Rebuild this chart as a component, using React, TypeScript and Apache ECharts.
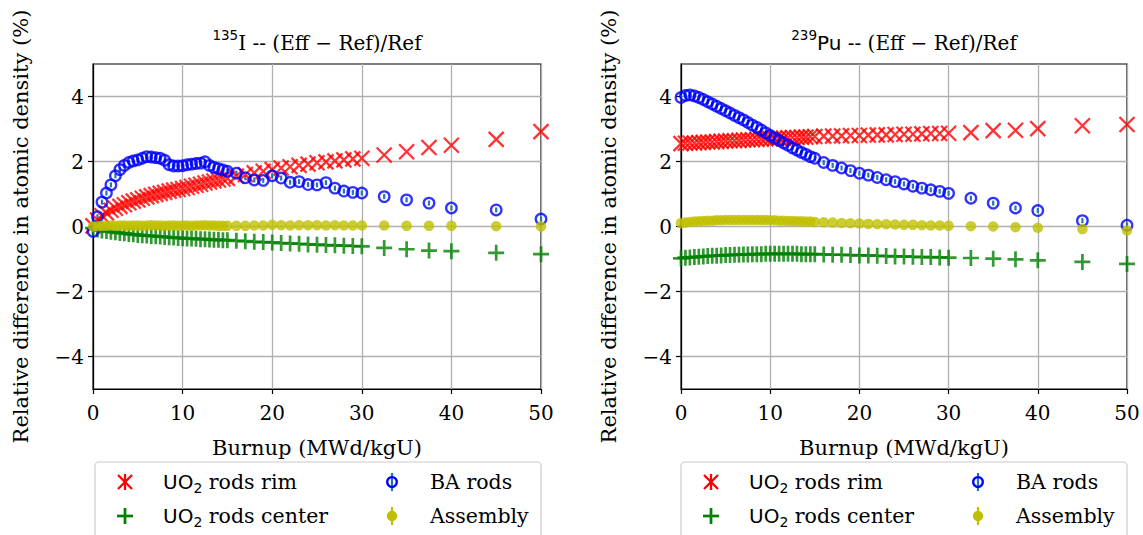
import React, { useEffect, useRef } from "react";
import * as echarts from "echarts";

const burnup = [
  0, 0.5, 1, 1.5, 2, 2.5, 3, 3.5, 4, 4.5, 5, 5.5, 6, 6.5, 7, 7.5, 8, 8.5, 9, 9.5, 10,
  10.5, 11, 11.5, 12, 12.5, 13, 13.5, 14, 14.5, 15,
  16, 17, 18, 19, 20, 21, 22, 23, 24, 25, 26, 27, 28, 29, 30,
  32.5, 35, 37.5, 40, 45, 50,
];

// 135I panel
const rimI = [
  0.02, 0.2, 0.33, 0.42, 0.5, 0.56, 0.62, 0.67, 0.73, 0.78, 0.82, 0.87, 0.91, 0.95, 0.99, 1.02, 1.05, 1.09, 1.12, 1.14, 1.17,
  1.2, 1.24, 1.27, 1.3, 1.34, 1.37, 1.4, 1.43, 1.46, 1.48,
  1.55, 1.6, 1.65, 1.7, 1.75, 1.8, 1.84, 1.88, 1.92, 1.96, 1.99, 2.02, 2.05, 2.08, 2.1,
  2.2, 2.3, 2.43, 2.5, 2.68, 2.92,
];
const centerI = [
  -0.05, -0.09, -0.12, -0.14, -0.16, -0.18, -0.2, -0.21, -0.23, -0.24, -0.26, -0.27, -0.28, -0.29, -0.3, -0.31, -0.32, -0.33, -0.34, -0.35, -0.36,
  -0.37, -0.37, -0.38, -0.39, -0.39, -0.4, -0.41, -0.41, -0.42, -0.42,
  -0.44, -0.45, -0.47, -0.48, -0.49, -0.51, -0.52, -0.53, -0.55, -0.56, -0.57, -0.58, -0.59, -0.6, -0.61,
  -0.66, -0.7, -0.74, -0.76, -0.81, -0.85,
];
const baI = [
  -0.15, 0.3, 0.75, 1.03, 1.28, 1.56, 1.75, 1.88, 1.97, 2.02, 2.05, 2.1, 2.15, 2.14, 2.12, 2.1, 2.04, 1.9, 1.86, 1.86, 1.87,
  1.9, 1.92, 1.94, 1.95, 1.99, 1.88, 1.82, 1.78, 1.74, 1.7,
  1.64, 1.5, 1.43, 1.42, 1.56, 1.49, 1.36, 1.38, 1.29, 1.28, 1.35, 1.18, 1.09, 1.05, 1.03,
  0.92, 0.82, 0.72, 0.57, 0.51, 0.23,
];
const asmI = [
  0.0, 0.01, 0.02, 0.02, 0.03, 0.02, 0.03, 0.03, 0.02, 0.03, 0.03, 0.02, 0.03, 0.04, 0.03, 0.03, 0.02, 0.03, 0.03, 0.02, 0.03,
  0.03, 0.02, 0.03, 0.03, 0.04, 0.03, 0.03, 0.02, 0.02, 0.02,
  0.02, 0.02, 0.03, 0.03, 0.05, 0.04, 0.03, 0.04, 0.04, 0.04, 0.03, 0.04, 0.03, 0.03, 0.03,
  0.03, 0.02, 0.02, 0.02, 0.01, 0.0,
];

// 239Pu panel
const rimPu = [
  2.55, 2.56, 2.57, 2.57, 2.58, 2.59, 2.6, 2.6, 2.61, 2.62, 2.63, 2.64, 2.64, 2.65, 2.66, 2.67, 2.67, 2.68, 2.69, 2.7, 2.7,
  2.71, 2.72, 2.72, 2.73, 2.74, 2.74, 2.75, 2.75, 2.76, 2.77,
  2.78, 2.78, 2.79, 2.8, 2.8, 2.81, 2.82, 2.82, 2.83, 2.84, 2.84, 2.85, 2.86, 2.86, 2.87,
  2.89, 2.95, 2.96, 3.01, 3.1, 3.14,
];
const centerPu = [
  -0.98, -0.96, -0.95, -0.94, -0.93, -0.92, -0.91, -0.9, -0.9, -0.89, -0.88, -0.88, -0.87, -0.87, -0.86, -0.86, -0.85, -0.85, -0.85, -0.84, -0.84,
  -0.84, -0.84, -0.84, -0.84, -0.84, -0.84, -0.85, -0.85, -0.85, -0.85,
  -0.86, -0.87, -0.87, -0.88, -0.89, -0.89, -0.9, -0.91, -0.92, -0.92, -0.93, -0.94, -0.94, -0.95, -0.96,
  -0.97, -0.99, -1.01, -1.04, -1.09, -1.15,
];
const baPu = [
  3.97, 4.03, 4.05, 4.02, 3.97, 3.91, 3.84, 3.77, 3.7, 3.63, 3.56, 3.49, 3.42, 3.35, 3.28, 3.2, 3.12, 3.05, 2.97, 2.88, 2.8,
  2.72, 2.65, 2.57, 2.5, 2.42, 2.35, 2.28, 2.22, 2.15, 2.1,
  1.97, 1.88, 1.8, 1.72, 1.64, 1.58, 1.51, 1.44, 1.38, 1.31, 1.24, 1.18, 1.13, 1.08, 1.02,
  0.87, 0.72, 0.57, 0.49, 0.18, 0.04,
];
const asmPu = [
  0.1, 0.12, 0.14, 0.15, 0.16, 0.17, 0.18, 0.18, 0.19, 0.19, 0.2, 0.2, 0.2, 0.2, 0.2, 0.2, 0.2, 0.2, 0.2, 0.2, 0.19,
  0.19, 0.18, 0.18, 0.17, 0.17, 0.16, 0.16, 0.15, 0.15, 0.14,
  0.13, 0.12, 0.11, 0.1, 0.09, 0.08, 0.07, 0.07, 0.06, 0.05, 0.05, 0.04, 0.03, 0.03, 0.02,
  0.01, 0.0, -0.02, -0.04, -0.08, -0.12,
];

const xTicks = { min: 0, max: 50, interval: 10 };
const yTicks = [-4, -2, 0, 2, 4];
const yRange = { min: -5, max: 5 };

const SERIF = "DejaVu Serif";
const SANS = "DejaVu Sans";
const RED = "#ff0000";
const GREEN = "#008000";
const BLUE = "#0000ff";
const OLIVE = "#bfbf00";
const ERRBLUE = "#1f77b4";

const grids = [
  { left: 93, top: 64, width: 448, height: 325 },
  { left: 681, top: 64, width: 446, height: 325 },
];

const pair = (ys: number[]) => burnup.map((b, i) => [b, ys[i]]);

const fmtNum = (v: number) => (v < 0 ? "\u2212" + Math.abs(v) : String(v));

function makeSeries(gi: number, rim: number[], center: number[], ba: number[], asm: number[]) {
  return [
    {
      type: "scatter",
      name: "UO2 rods rim",
      xAxisIndex: gi,
      yAxisIndex: gi,
      data: pair(rim),
      symbol: "path://M0,0L10,10M10,0L0,10",
      symbolSize: 15,
      itemStyle: { color: "rgba(0,0,0,0)", borderColor: RED, borderWidth: 2.3 },
    },
    {
      type: "scatter",
      name: "UO2 rods center",
      xAxisIndex: gi,
      yAxisIndex: gi,
      data: pair(center),
      symbol: "path://M5,0L5,10M0,5L10,5",
      symbolSize: 16,
      itemStyle: { color: "rgba(0,0,0,0)", borderColor: GREEN, borderWidth: 2.7 },
    },
    {
      type: "custom",
      name: "BA err",
      xAxisIndex: gi,
      yAxisIndex: gi,
      data: pair(ba),
      encode: { x: 0, y: 1 },
      renderItem: (_p: any, api: any) => {
        const c = api.coord([api.value(0), api.value(1)]);
        return {
          type: "line",
          shape: { x1: c[0], y1: c[1] - 2.5, x2: c[0], y2: c[1] + 2.5 },
          style: { stroke: ERRBLUE, lineWidth: 2.2 },
        };
      },
    },
    {
      type: "scatter",
      name: "BA rods",
      xAxisIndex: gi,
      yAxisIndex: gi,
      data: pair(ba),
      symbol: "circle",
      symbolSize: 10.5,
      itemStyle: { color: "rgba(0,0,0,0)", borderColor: BLUE, borderWidth: 2.3 },
    },
    {
      type: "scatter",
      name: "Assembly",
      xAxisIndex: gi,
      yAxisIndex: gi,
      data: pair(asm),
      symbol: "circle",
      symbolSize: 10.5,
      itemStyle: { color: OLIVE },
    },
  ];
}

function legendGraphics(L: number, R: number) {
  const items: any[] = [];
  items.push({
    type: "rect",
    shape: { x: L, y: 462, width: R - L, height: 90, r: 4 },
    style: { fill: "#ffffff", stroke: "#cccccc", lineWidth: 1.2 },
    z: 10,
  });
  const m1 = L + 30;
  const t1 = L + 68;
  const m2 = L + 297;
  const t2 = L + 335;
  const r1 = 482;
  const r2 = 516;
  const ln = (x1: number, y1: number, x2: number, y2: number, stroke: string, w: number) => ({
    type: "line",
    shape: { x1, y1, x2, y2 },
    style: { stroke, lineWidth: w },
    z: 11,
  });
  items.push(ln(m1, r1 - 8, m1, r1 + 8, RED, 2.3));
  items.push(ln(m1 - 7, r1 - 7, m1 + 7, r1 + 7, RED, 2.3));
  items.push(ln(m1 + 7, r1 - 7, m1 - 7, r1 + 7, RED, 2.3));
  items.push(ln(m1, r2 - 8, m1, r2 + 8, GREEN, 2.7));
  items.push(ln(m1 - 8, r2, m1 + 8, r2, GREEN, 2.7));
  items.push(ln(m2, r1 - 9, m2, r1 + 9, ERRBLUE, 2.2));
  items.push({
    type: "circle",
    shape: { cx: m2, cy: r1, r: 4.8 },
    style: { fill: "none", stroke: BLUE, lineWidth: 2.3 },
    z: 12,
  });
  items.push(ln(m2, r2 - 9, m2, r2 + 9, OLIVE, 2.2));
  items.push({
    type: "circle",
    shape: { cx: m2, cy: r2, r: 5.2 },
    style: { fill: OLIVE },
    z: 12,
  });
  const rich = {
    s: { fontFamily: SANS, fontSize: 20, lineHeight: 26, verticalAlign: "middle", fill: "#000" },
    sub: { fontFamily: SANS, fontSize: 14, lineHeight: 13, verticalAlign: "bottom", fill: "#000" },
    r: { fontFamily: SERIF, fontSize: 20.5, lineHeight: 26, verticalAlign: "middle", fill: "#000" },
  };
  const txt = (x: number, y: number, text: string) => ({
    type: "text",
    x,
    y,
    z: 12,
    style: { text, rich, fontFamily: SERIF, fontSize: 20.5, align: "left", verticalAlign: "middle" },
  });
  items.push(txt(t1, r1, "{s|UO}{sub|2}{r| rods rim}"));
  items.push(txt(t1, r2, "{s|UO}{sub|2}{r| rods center}"));
  items.push(txt(t2, r1, "{r|BA rods}"));
  items.push(txt(t2, r2, "{r|Assembly}"));
  return items;
}

function titleGraphic(cx: number, sup: string, head: string, headFont: string) {
  return {
    type: "text",
    x: cx,
    y: 40,
    style: {
      text: `{sup|${sup}}{h|${head}}{m| -- (Eff \u2212 Ref)/Ref}`,
      fontFamily: SERIF,
      fontSize: 20,
      align: "center",
      verticalAlign: "middle",
      rich: {
        sup: { fontFamily: SANS, fontSize: 13.5, lineHeight: 14, verticalAlign: "top", fill: "#000" },
        h: { fontFamily: headFont, fontSize: 20, lineHeight: 25, verticalAlign: "bottom", fill: "#000" },
        m: { fontFamily: SERIF, fontSize: 20, lineHeight: 25, verticalAlign: "bottom", fill: "#000" },
      },
    },
  };
}

export default function App() {
  const ref = useRef<HTMLDivElement>(null);
  useEffect(() => {
    if (!ref.current) return;
    const chart = echarts.init(ref.current, undefined, { renderer: "svg" });
    const xAxis = grids.map((_, i) => ({
      type: "value",
      gridIndex: i,
      ...xTicks,
      name: "Burnup (MWd/kgU)",
      nameLocation: "middle",
      nameGap: 48,
      nameTextStyle: { fontFamily: SERIF, fontSize: 21, color: "#000" },
      axisLine: { show: true, onZero: false, lineStyle: { color: "#000", width: 1.2 } },
      axisTick: { show: true, inside: false, length: 5, lineStyle: { color: "#000", width: 1.2 } },
      axisLabel: { fontFamily: SERIF, fontSize: 20, color: "#000", margin: 14 },
      splitLine: { show: true, lineStyle: { color: "#b0b0b0", width: 1.3 } },
    }));
    const yAxis = grids.map((_, i) => ({
      type: "value",
      gridIndex: i,
      ...yRange,
      name: "Relative difference in atomic density (%)",
      nameLocation: "middle",
      nameGap: 62,
      nameTextStyle: { fontFamily: SERIF, fontSize: 21, color: "#000" },
      axisLine: { show: true, onZero: false, lineStyle: { color: "#000", width: 1.2 } },
      axisTick: { show: true, inside: false, length: 5, customValues: yTicks, lineStyle: { color: "#000", width: 1.2 } },
      axisLabel: { fontFamily: SERIF, fontSize: 20, color: "#000", margin: 9, customValues: yTicks, formatter: (v: number) => fmtNum(v) },
      splitLine: { show: true, lineStyle: { color: "#b0b0b0", width: 1.3 } },
    }));
    const option: any = {
      animation: false,
      backgroundColor: "#ffffff",
      textStyle: { fontFamily: SERIF },
      grid: grids.map((g) => ({ ...g, show: true, borderColor: "#000", borderWidth: 1.2, backgroundColor: "transparent" })),
      xAxis,
      yAxis,
      series: [
        ...makeSeries(0, rimI, centerI, baI, asmI),
        ...makeSeries(1, rimPu, centerPu, baPu, asmPu),
      ],
      graphic: [
        titleGraphic(grids[0].left + grids[0].width / 2, "135", "I", SERIF),
        titleGraphic(grids[1].left + grids[1].width / 2, "239", "Pu", SANS),
        ...legendGraphics(95, 541),
        ...legendGraphics(681, 1127),
      ],
    };
    chart.setOption(option);
    return () => chart.dispose();
  }, []);
  return (
    <div
      ref={ref}
      style={{ position: "fixed", left: 0, top: 0, width: 1143, height: 535, background: "#fff" }}
    />
  );
}
